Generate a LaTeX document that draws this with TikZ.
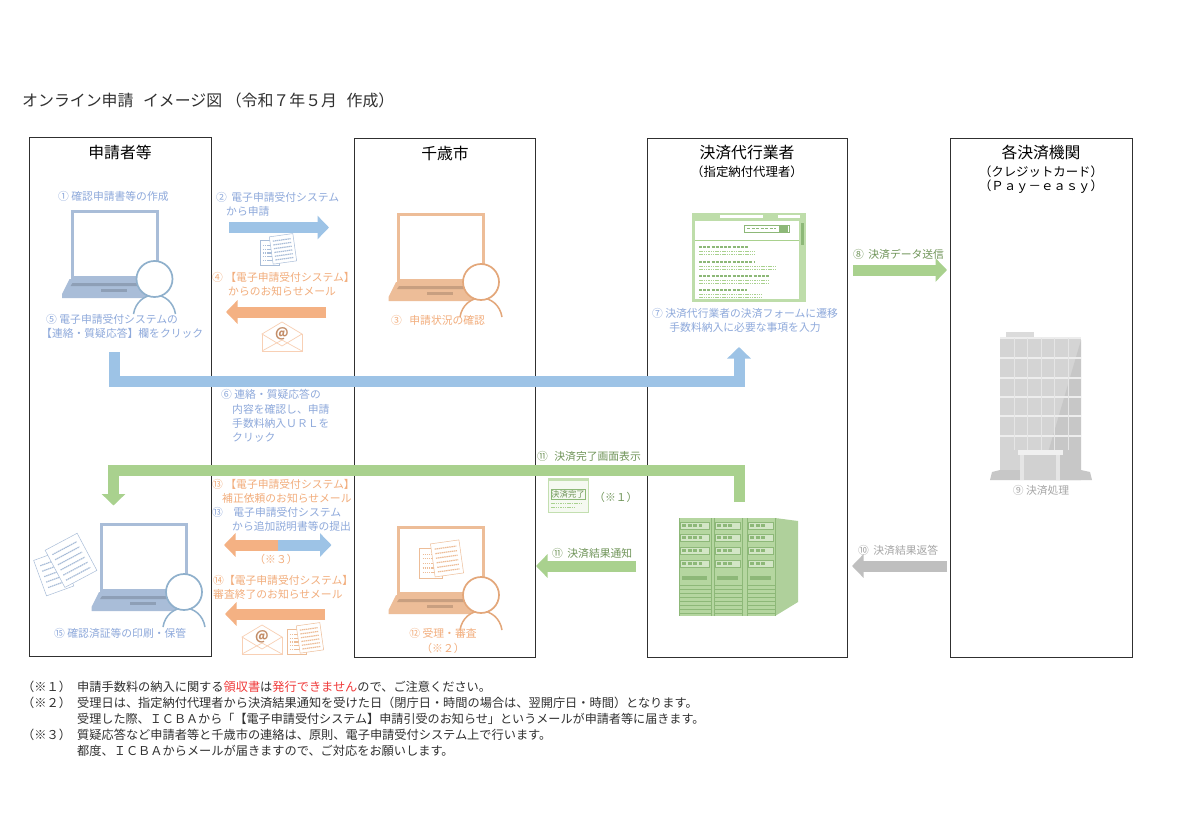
\documentclass[tikz,border=0pt]{standalone}
\usepackage{xcolor}
\usepackage{fontspec}
\setmainfont{Noto Sans CJK JP}
\usetikzlibrary{arrows.meta, positioning}
\definecolor{flowblue}{HTML}{9DC3E6}
\definecolor{floworange}{HTML}{F4B183}
\definecolor{flowgreen}{HTML}{A9D18E}
\definecolor{flowgray}{HTML}{BFBFBF}
\definecolor{textblue}{HTML}{8EA9DB}
\definecolor{textorange}{HTML}{F2AD7C}
\definecolor{textgreen}{HTML}{6F9458}
\definecolor{textgray}{HTML}{A6A6A6}
\definecolor{noteblack}{HTML}{303030}
\definecolor{notered}{HTML}{F03A3A}
\definecolor{pcblue}{HTML}{A9BDD8}
\definecolor{ringblue}{HTML}{8FB0CC}
\definecolor{pcorange}{HTML}{EDBD98}
\definecolor{ringorange}{HTML}{E3A77A}
\definecolor{servergreen}{HTML}{B5D6A0}
\definecolor{darkgreen}{HTML}{8DB878}
\tikzset{
  panel/.style={draw=noteblack, line width=0.9pt, fill=white, inner sep=0pt},
  paneltitle/.style={inner sep=0pt, font=\fontsize{15.8}{18}\selectfont},
  panelsub/.style={inner sep=0pt, font=\fontsize{12.4}{15}\selectfont},
  steptext/.style={inner sep=0pt, align=left, anchor=west, font=\fontsize{10.8}{14.2}\selectfont},
  bluetext/.style={steptext, text=textblue},
  orangetext/.style={steptext, text=textorange},
  greentext/.style={steptext, text=textgreen},
  graytext/.style={steptext, text=textgray},
  notetext/.style={inner sep=0pt, anchor=west, text=noteblack, font=\fontsize{12.2}{14}\selectfont},
  blockarrow/.style={line width=11pt, -{Triangle[length=11.5pt,width=23pt]}},
}
\newcommand{\redpart}[1]{\textcolor{notered}{#1}}
% Laptop with a person in front of it
\newcommand{\laptopicon}[4]{
  \begin{scope}[shift={(#1,#2)}]
    \fill[#3] (0,0) rectangle (88,69);
    \fill[white] (3,3) rectangle (85,66);
    \fill[#3] (-1,69) -- (80,69) -- (80,88) -- (-8.5,88) -- (-8.5,84) -- cycle;
    \fill[#3!65!black!45!#3] (2,73) -- (68,73) -- (68,76) -- (0,76) -- cycle;
    \fill[#3!65!black!45!#3] (30,79) rectangle (56,82);
    \fill[white] (63,104) .. controls (65,92) and (74,85) .. (84,85) .. controls (94,85) and (103,92) .. (105,104) -- cycle;
    \draw[#4, line width=1.5pt] (63,104) .. controls (65,92) and (74,85) .. (84,85) .. controls (94,85) and (103,92) .. (105,104);
    \filldraw[fill=white, draw=#4, line width=1.7pt] (84,69) circle (18);
  \end{scope}
}
% Pile of printed sheets
\newcommand{\docicon}[5]{
  \begin{scope}[shift={(#1,#2)}, rotate=#3, scale=#4]
    \filldraw[fill=white, draw=#5, line width=0.5pt] (-19,-11) rectangle (1,15);
    \draw[#5, line width=1.2pt, dash pattern=on 1.5pt off 0.6pt] (-16,-6) -- (-2,-6) (-16,-2) -- (-2,-2) (-16,2) -- (-2,2) (-16,6) -- (-2,6) (-16,10) -- (-2,10);
    \filldraw[fill=white, draw=#5, line width=0.5pt, rotate=8] (-7,-16) rectangle (18,13);
    \draw[#5, line width=1.2pt, dash pattern=on 1.5pt off 0.6pt, rotate=8] (-4,-11) -- (15,-11) (-4,-7) -- (15,-7) (-4,-3) -- (15,-3) (-4,1) -- (15,1) (-4,5) -- (15,5) (-4,9) -- (15,9);
  \end{scope}
}
% Opened envelope with an at sign
\newcommand{\mailicon}[4]{
  \begin{scope}[shift={(#1,#2)}]
    \filldraw[fill=white, draw=#3!60, line width=0.7pt] (-20,-3) rectangle (20,14);
    \filldraw[fill=white, draw=#3!60, line width=0.7pt] (-20,-3) -- (0,-15) -- (20,-3) -- (0,9) -- cycle;
    \draw[#3!60, line width=0.7pt] (-20,14) -- (0,3) -- (20,14);
    \node[inner sep=0pt, text=#3!80!black, font=\bfseries\fontsize{13}{13}\selectfont] (#4) at (0,-3) {@};
  \end{scope}
}
% One rack of the server
\newcommand{\rackicon}[2]{
  \begin{scope}[shift={(#1,518)}]
    \foreach \yy in {4,16,29,42} {
      \filldraw[fill=white!40!servergreen, draw=darkgreen, line width=0.5pt] (1.5,\yy) rectangle (#2-2,\yy+7.5);
      \draw[darkgreen, line width=3pt, dash pattern=on 4pt off 1.5pt] (3,\yy+3.7) -- (#2-9,\yy+3.7);
    }
    \fill[darkgreen] (3,58) rectangle (#2-4,62);
    \foreach \yy in {67,71,75,79,83,87,91,95} {
      \draw[darkgreen, line width=0.8pt] (0,\yy) -- (#2,\yy);
    }
    \draw[darkgreen, line width=0.8pt] (0,0) -- (0,98) (#2,0) -- (#2,98);
  \end{scope}
}

\begin{document}
\begin{tikzpicture}[x=1pt, y=-1pt]
    \useasboundingbox (0,0) rectangle (1180,840);
    \fill[white] (0,0) rectangle (1180,840);

    % Title
    \node[inner sep=0pt, anchor=west, font=\fontsize{15.9}{18}\selectfont, text=noteblack] (title) at (22,100) {オンライン申請\hspace{6pt} イメージ図 （令和７年５月\hspace{6pt} 作成）};

    % Four panels
    \node[panel, minimum width=182pt, minimum height=519pt] (applicant) at (120,396.5) {};
    \node[panel, minimum width=181pt, minimum height=519pt] (city) at (444.5,397.5) {};
    \node[panel, minimum width=200pt, minimum height=519pt] (agent) at (747,397.5) {};
    \node[panel, minimum width=182pt, minimum height=519pt] (bank) at (1041,397.5) {};

    % Panel titles
    \node[paneltitle] (applicanttitle) at (120,152) {申請者等};
    \node[paneltitle] (citytitle) at (445,153) {千歳市};
    \node[paneltitle] (agenttitle) at (747,153) {決済代行業者};
    \node[panelsub] (agentsub) at (747,172) {（指定納付代理者）};
    \node[paneltitle] (banktitle) at (1041,153) {各決済機関};
    \node[panelsub] (banksubone) at (1041,172) {（クレジットカード）};
    \node[panelsub] (banksubtwo) at (1041,187) {（Ｐａｙ－ｅａｓｙ）};

    % Laptops
    \laptopicon{70.5}{210}{pcblue}{ringblue}
    \laptopicon{397}{213}{pcorange}{ringorange}
    \laptopicon{100}{523}{pcblue}{ringblue}
    \laptopicon{397}{526}{pcorange}{ringorange}

    % Sheets and mails
    \docicon{278}{251}{0}{0.95}{pcblue}
    \docicon{65}{566}{20}{1.45}{pcblue}
    \docicon{441}{561}{0}{1.15}{pcorange}
    \docicon{305}{640}{0}{0.95}{pcorange}
    \mailicon{282}{337}{floworange}{mailtop}
    \mailicon{262}{640}{floworange}{mailbottom}

    % Browser with the payment form
    \fill[flowgreen!75] (692,213) rectangle (806,302);
    \fill[white] (695,221) rectangle (799,299);
    \fill[white] (720,215) rectangle (763,218);
    \fill[white] (778,215) rectangle (800,218);
    \fill[darkgreen] (801,223) rectangle (804,245);
    \draw[darkgreen, line width=0.8pt, fill=white] (744,225) rectangle (789,232);
    \draw[darkgreen, line width=1pt, dash pattern=on 3pt off 1.5pt] (747,228.5) -- (776,228.5);
    \fill[darkgreen] (779,226) rectangle (788,232);
    \draw[flowgreen, line width=0.6pt] (695,240) -- (799,240);
    \draw[darkgreen, line width=1.8pt, dash pattern=on 3pt off 1.2pt] (699,247) -- (748,247) (699,262) -- (754,262) (699,276) -- (769,276) (699,290) -- (747,290);
    \draw[flowgreen, line width=1pt, dash pattern=on 1.5pt off 0.8pt] (699,251) -- (755,251) (699,254) -- (755,254) (699,266) -- (775,266) (699,269) -- (775,269) (699,280) -- (769,280) (699,283) -- (769,283) (699,294) -- (762,294) (699,297) -- (762,297);

    % Server
    \fill[servergreen] (679,518) rectangle (775,616);
    \fill[servergreen!85!black!20!servergreen] (775,518) -- (798,521) -- (798,602) -- (775,616) -- cycle;
    \rackicon{679}{32}
    \rackicon{714}{28}
    \rackicon{747}{28}

    % Building
    \fill[black!14] (1006,332) rectangle (1034,338);
    \fill[black!17] (1000,337) rectangle (1081,480);
    \fill[black!22] (1081,340) -- (1081,480) -- (1040,480) -- cycle;
    \draw[black!7, line width=2pt] (1000,338) -- (1081,338) (1000,358) -- (1081,358) (1000,378) -- (1081,378) (1000,397) -- (1081,397) (1000,416) -- (1081,416) (1000,436) -- (1081,436);
    \draw[black!10, line width=0.8pt] (1014,338) -- (1014,450) (1027,338) -- (1027,450) (1041,338) -- (1041,450) (1054,338) -- (1054,450) (1068,338) -- (1068,450);
    \fill[black!22] (990,480) -- (992,472) -- (1000,470) -- (1081,470) -- (1090,472) -- (1092,480) -- cycle;
    \fill[black!10] (1020,455) rectangle (1060,480);
    \fill[black!18] (1024,455) rectangle (1056,480);
    \fill[black!6] (1018,450) rectangle (1063,455);

    % Thumbnail of the completion screen
    \filldraw[fill=flowgreen!12, draw=flowgreen!70, line width=0.6pt] (548,478) rectangle (588,512);
    \fill[flowgreen!70] (548,478) rectangle (588,481);
    \draw[darkgreen, line width=0.8pt] (551,489.5) rectangle (585,499.5);
    \node[inner sep=0pt, text=textgreen, font=\fontsize{8.4}{8.4}\selectfont] (donemark) at (568,494.5) {決済完了};
    \draw[flowgreen, line width=0.8pt, dash pattern=on 1.5pt off 0.8pt] (551,503) -- (582,503) (551,507) -- (575,507);

    % Arrows between the panels
    \coordinate (applyfrom) at (229,227.5);
    \coordinate (applyto) at (329,227.5);
    \coordinate (noticefrom) at (326,312);
    \coordinate (noticeto) at (226,312);
    \coordinate (clickfrom) at (114,352);
    \coordinate (clickto) at (739,347);
    \coordinate (donefrom) at (739,502);
    \coordinate (doneto) at (113.5,505.5);
    \coordinate (dataout) at (853,270);
    \coordinate (datain) at (947,270);
    \coordinate (resultfrom) at (947,566);
    \coordinate (resultto) at (852,566);
    \coordinate (informfrom) at (636,566);
    \coordinate (informto) at (536,566);
    \coordinate (fixmid) at (278,545);
    \coordinate (fixleft) at (224,545);
    \coordinate (fixright) at (331.5,545);
    \coordinate (endfrom) at (325,614);
    \coordinate (endto) at (225,614);

    \draw[blockarrow, flowblue] (applyfrom) -- (applyto);
    \draw[blockarrow, floworange] (noticefrom) -- (noticeto);
    \draw[blockarrow, flowblue] (clickfrom) |- (739,381) -- (clickto);
    \draw[blockarrow, flowgreen] (donefrom) |- (113.5,470.5) -- (doneto);
    \draw[blockarrow, flowgreen] (dataout) -- (datain);
    \draw[blockarrow, flowgray] (resultfrom) -- (resultto);
    \draw[blockarrow, flowgreen] (informfrom) -- (informto);
    \draw[blockarrow, floworange] (fixmid) -- (fixleft);
    \draw[blockarrow, flowblue] (fixmid) -- (fixright);
    \draw[blockarrow, floworange] (endfrom) -- (endto);

    % Step labels
    \node[bluetext] (stepone) at (58,196) {① 確認申請書等の作成};
    \node[bluetext] (steptwo) at (216,204) {② \hspace{2pt}電子申請受付システム\\\hspace*{10pt}から申請};
    \node[orangetext] (stepthree) at (391,320) {③ \hspace{5pt}申請状況の確認};
    \node[orangetext] (stepfour) at (212,284) {④ 【電子申請受付システム】\\\hspace*{16pt}からのお知らせメール};
    \node[bluetext] (stepfive) at (46,326.5) {⑤ 電子申請受付システムの\\\hspace*{-5pt}【連絡・質疑応答】欄をクリック};
    \node[bluetext] (stepsix) at (221,416) {⑥ 連絡・質疑応答の\\\hspace*{11pt}内容を確認し、申請\\\hspace*{11pt}手数料納入ＵＲＬを\\\hspace*{11pt}クリック};
    \node[bluetext, anchor=center, align=center] (stepseven) at (745,320) {⑦ 決済代行業者の決済フォームに遷移\\手数料納入に必要な事項を入力};
    \node[greentext] (stepeight) at (853,254) {⑧ \hspace{2pt}決済データ送信};
    \node[graytext, anchor=center] (stepnine) at (1041,490) {⑨ 決済処理};
    \node[graytext] (stepten) at (858,550) {⑩ \hspace{2pt}決済結果返答};
    \node[greentext] (stepelevena) at (537,456) {⑪ \hspace{4pt}決済完了画面表示};
    \node[greentext] (stepelevenb) at (552,553) {⑪ \hspace{2pt}決済結果通知};
    \node[greentext] (markone) at (594,497) {（※１）};
    \node[orangetext, anchor=center, align=center] (steptwelve) at (443,641) {⑫ 受理・審査\\（※２）};
    \node[orangetext] (stepthirteena) at (212,491) {⑬ 【電子申請受付システム】\\\hspace*{10pt}補正依頼のお知らせメール};
    \node[bluetext] (stepthirteenb) at (212,519) {⑬ \hspace{8pt}電子申請受付システム\\\hspace*{20pt}から追加説明書等の提出};
    \node[orangetext, anchor=center] (markthree) at (276,559) {（※３）};
    \node[orangetext] (stepfourteen) at (213,587) {⑭【電子申請受付システム】\\審査終了のお知らせメール};
    \node[bluetext] (stepfifteen) at (54,633) {⑮ 確認済証等の印刷・保管};

    % Notes
    \node[notetext] (noteone) at (22,687) {（※１）};
    \node[notetext] (noteonetext) at (77,687) {申請手数料の納入に関する\redpart{領収書}は\redpart{発行できません}ので、ご注意ください。};
    \node[notetext] (notetwo) at (22,703) {（※２）};
    \node[notetext] (notetwotext) at (77,703) {受理日は、指定納付代理者から決済結果通知を受けた日（閉庁日・時間の場合は、翌開庁日・時間）となります。};
    \node[notetext, font=\fontsize{12.1}{14}\selectfont] (notetwomore) at (77,719) {受理した際、ＩＣＢＡから「【電子申請受付システム】申請引受のお知らせ」というメールが申請者等に届きます。};
    \node[notetext] (notethree) at (22,735) {（※３）};
    \node[notetext] (notethreetext) at (77,735) {質疑応答など申請者等と千歳市の連絡は、原則、電子申請受付システム上で行います。};
    \node[notetext] (notethreemore) at (77,751) {都度、ＩＣＢＡからメールが届きますので、ご対応をお願いします。};
\end{tikzpicture}
\end{document}
